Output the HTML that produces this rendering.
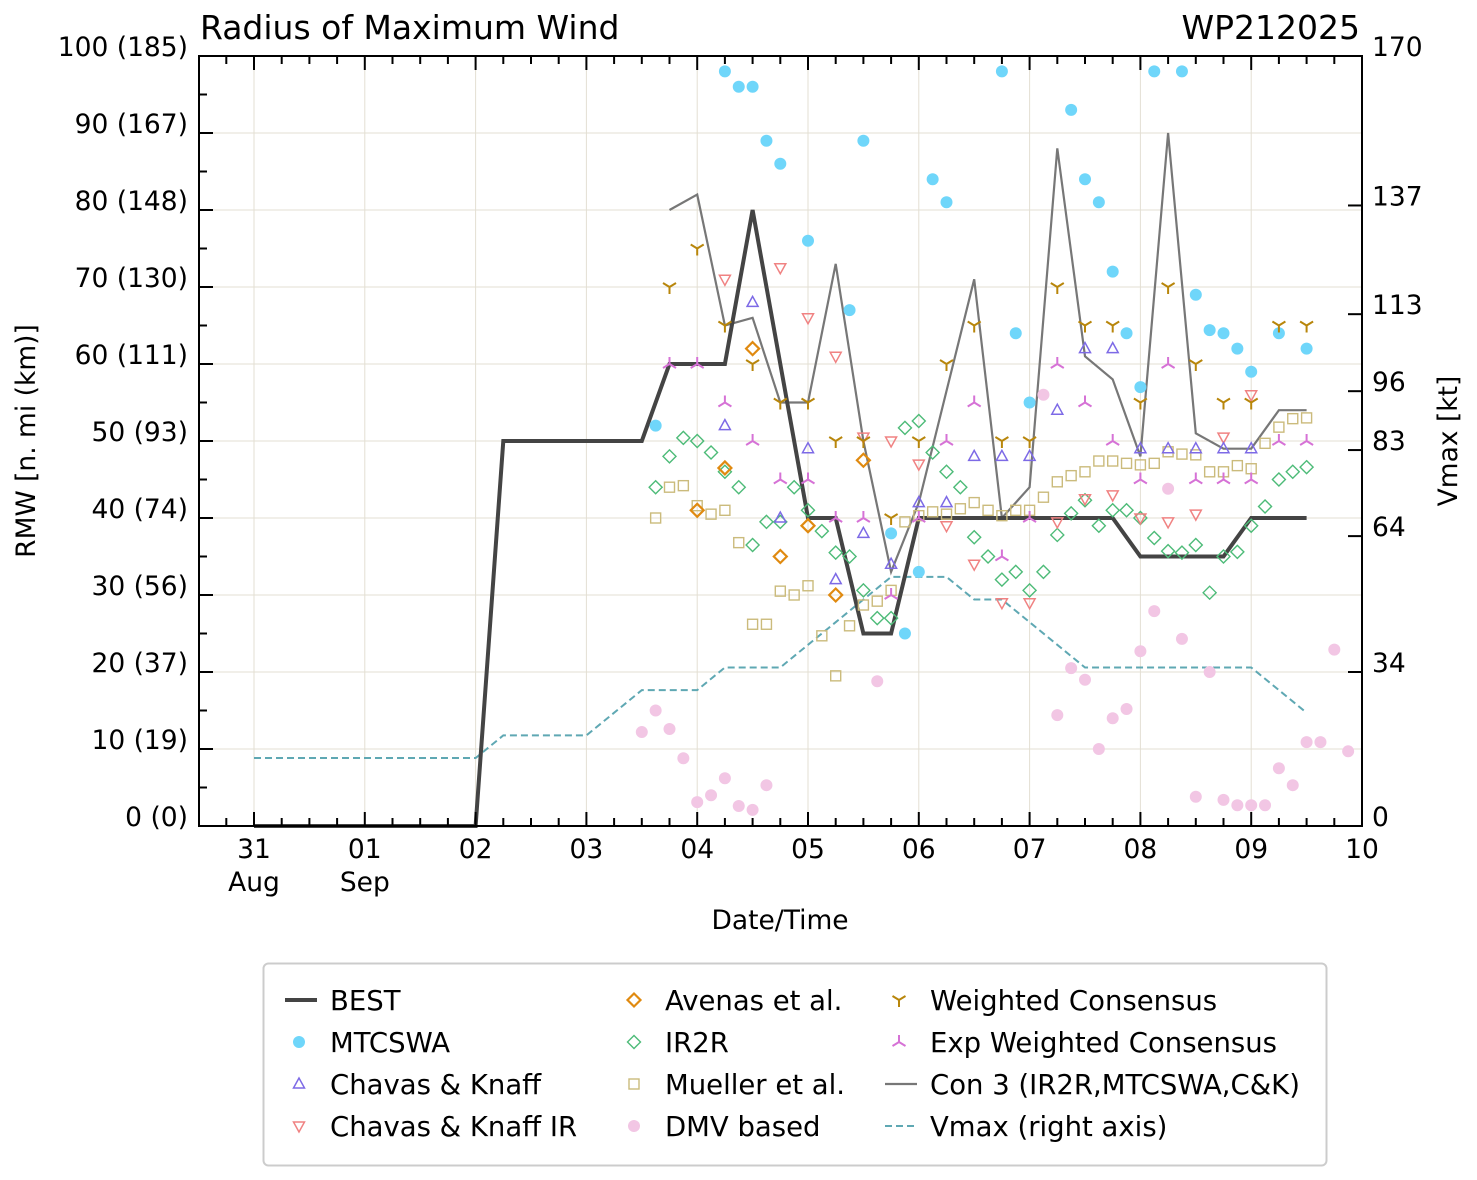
<!DOCTYPE html>
<html><head><meta charset="utf-8"><style>
body{margin:0;background:#fff;}
svg{display:block;font-family:"DejaVu Sans","Liberation Sans",sans-serif;}
</style></head><body>
<svg id="c" width="1477" height="1180" xmlns="http://www.w3.org/2000/svg">
<g id="grid"></g>
<g id="series"></g>
<g id="axes"></g>
<text x="200" y="39" font-size="33">Radius of Maximum Wind</text>
<text x="1360" y="39" font-size="33" text-anchor="end">WP212025</text>
<text transform="translate(35,441) rotate(-90)" font-size="26.5" text-anchor="middle">RMW [n. mi (km)]</text>
<text transform="translate(1457,441) rotate(-90)" font-size="26.5" text-anchor="middle">Vmax [kt]</text>
<text x="780" y="929" font-size="26.5" text-anchor="middle">Date/Time</text>
<g id="legend"></g>
</svg>
<script>
const xTicks=[0,1,2,3,4,5,6,7,8,9,10];
const xTickLabels=["31","01","02","03","04","05","06","07","08","09","10"];
const xMonthLabels=["Aug","Sep","","","","","","","","",""];
const yTicks=[0,10,20,30,40,50,60,70,80,90,100];
const yTickLabels=["0 (0)","10 (19)","20 (37)","30 (56)","40 (74)","50 (93)","60 (111)","70 (130)","80 (148)","90 (167)","100 (185)"];
const rTicks=[0,34,64,83,96,113,137,170];

const bestT=[0,2,2.25,3.5,3.75,4.25,4.5,5,5.25,5.5,5.75,6,7.75,8,8.75,9,9.5];
const bestV=[0,0,50,50,60,60,80,40,40,25,25,40,40,35,35,40,40];
const con3T=[3.75,4,4.25,4.5,4.75,5,5.25,5.5,5.75,6,6.5,6.75,7,7.25,7.5,7.75,8,8.25,8.5,8.75,9,9.25,9.5];
const con3V=[80,82,65,66,55,55,73,50,33,42,71,40,44,88,61,58,48,90,51,49,49,54,54];
const vmaxT=[0,2,2.25,3,3.5,4,4.25,4.75,5,5.25,5.5,5.75,6,6.25,6.5,6.75,7,7.25,7.5,9,9.5];
const vmaxV=[15,15,20,20,30,30,35,35,40,45,50,55,55,55,50,50,45,40,35,35,25];

const mtT=[3.625,4.25,4.375,4.5,4.625,4.75,5,5.375,5.5,5.75,5.875,6,6.125,6.25,6.75,6.875,7,7.375,7.5,7.625,7.75,7.875,8,8.125,8.375,8.5,8.625,8.75,8.875,9,9.25,9.5];
const mtV=[52,98,96,96,89,86,76,67,89,38,25,33,84,81,98,64,55,93,84,81,72,64,57,98,98,69,64.4,64,62,59,64,62];
const ckT=[4.25,4.5,4.75,5,5.25,5.5,5.75,6,6.25,6.5,6.75,7,7.25,7.5,7.75,8,8.25,8.5,8.75,9];
const ckV=[52,68,40,49,32,38,34,42,42,48,48,48,54,62,62,49,49,49,49,49];
const ckirT=[4.25,4.75,5,5.25,5.5,5.75,6,6.25,6.5,6.75,7,7.25,7.5,7.75,8,8.25,8.5,8.75,9];
const ckirV=[71,72.5,66,61,50.5,50,47,39,34,29,29,39.5,42.5,43,40,39.5,40.5,50.5,56];
const avT=[4,4.25,4.5,4.75,5,5.25,5.5];
const avV=[41,46.5,62,35,39,30,47.5];
const irT=[3.625,3.75,3.875,4,4.125,4.25,4.375,4.5,4.625,4.75,4.875,5,5.125,5.25,5.375,5.5,5.625,5.75,5.875,6,6.125,6.25,6.375,6.5,6.625,6.75,6.875,7,7.125,7.25,7.375,7.5,7.625,7.75,7.875,8,8.125,8.25,8.375,8.5,8.625,8.75,8.875,9,9.125,9.25,9.375,9.5];
const irV=[44,48,50.4,50,48.5,46,44,36.5,39.5,39.5,44,41,38.3,35.5,35,30.6,27,27,51.7,52.6,48.5,46,44,37.5,35,32,33,30.6,33,37.8,40.6,42.3,39,41,41,40,37.4,35.7,35.5,36.5,30.3,35,35.6,39,41.5,45,46,46.6];
const muT=[3.625,3.75,3.875,4,4.125,4.25,4.375,4.5,4.625,4.75,4.875,5,5.125,5.25,5.375,5.5,5.625,5.75,5.875,6,6.125,6.25,6.375,6.5,6.625,6.75,6.875,7,7.125,7.25,7.375,7.5,7.625,7.75,7.875,8,8.125,8.25,8.375,8.5,8.625,8.75,8.875,9,9.125,9.25,9.375,9.5];
const muV=[40,44,44.2,41.6,40.5,41,36.8,26.2,26.2,30.5,30,31.2,24.7,19.5,26,28.7,29.2,30.6,39.5,40.3,40.8,40.5,41.2,42,41,40.3,41,41,42.7,44.7,45.5,46,47.4,47.4,47.1,46.9,47.1,48.6,48.3,48.2,46,46,46.8,46.4,49.7,51.8,52.9,53];
const dmvT=[3.5,3.625,3.75,3.875,4,4.125,4.25,4.375,4.5,4.625,5.625,7.125,7.25,7.375,7.5,7.625,7.75,7.875,8,8.125,8.25,8.375,8.5,8.625,8.75,8.875,9,9.125,9.25,9.375,9.5,9.625,9.75,9.875];
const dmvV=[12.2,15,12.6,8.8,3.1,4,6.2,2.6,2.1,5.3,18.8,56,14.4,20.5,19,10,14,15.2,22.7,27.9,43.8,24.3,3.8,20,3.4,2.7,2.7,2.7,7.5,5.3,10.9,10.9,22.9,9.7];
const wcT=[3.75,4,4.25,4.5,4.75,5,5.25,5.5,5.75,6,6.25,6.5,6.75,7,7.25,7.5,7.75,8,8.25,8.5,8.75,9,9.25,9.5];
const wcV=[70,75,65,60,55,55,50,50,40,50,60,65,50,50,70,65,65,55,70,60,55,55,65,65];
const ewT=[3.75,4,4.25,4.5,4.75,5,5.25,5.5,5.75,6,6.25,6.5,6.75,7,7.25,7.5,7.75,8,8.25,8.5,8.75,9,9.25,9.5];
const ewV=[60,60,55,50,45,45,40,40,30,40,50,55,35,40,60,55,50,45,60,45,45,45,50,50];

const NS="http://www.w3.org/2000/svg";
const L=199,R=1362,T=56,B=826;
const X=d=>254+d*110.8;
const Y=v=>B-(v/100)*(B-T);
const YR=v=>B-(v/170)*(B-T);
function mk(tag,attrs,parent){const e=document.createElementNS(NS,tag);for(const k in attrs)e.setAttribute(k,attrs[k]);parent.appendChild(e);return e;}
const grid=document.getElementById('grid'),series=document.getElementById('series'),axes=document.getElementById('axes'),leg=document.getElementById('legend');
const GC="#e3dfd3";
xTicks.forEach(t=>{if(X(t)<R-1){const g=mk('line',{x1:X(t),x2:X(t),y1:T,y2:B,stroke:GC,'stroke-width':1},grid);}});
yTicks.forEach(t=>{const g=mk('line',{x1:L,x2:R,y1:Y(t),y2:Y(t),stroke:GC,'stroke-width':1},grid);});

function poly(ts,vs,yf,attrs,name){const p=mk('polyline',Object.assign({points:ts.map((t,i)=>X(t)+','+yf(vs[i])).join(' '),fill:'none'},attrs),series);}
poly(vmaxT,vmaxV,YR,{stroke:'#5fa8b3','stroke-width':2,'stroke-dasharray':'7,4'},'vmax-line');
poly(con3T,con3V,Y,{stroke:'#777','stroke-width':2.2},'con3-line');
poly(bestT,bestV,Y,{stroke:'#444','stroke-width':4,'stroke-linejoin':'miter'},'best-line');

function marker(kind,cx,cy,color,parent,name){
 let e;
 if(kind==='circle')e=mk('circle',{cx:cx,cy:cy,r:6,fill:color},parent);
 else if(kind==='tup')e=mk('polygon',{points:`${cx},${cy-6} ${cx-5.5},${cy+4} ${cx+5.5},${cy+4}`,fill:'none',stroke:color,'stroke-width':1.5},parent);
 else if(kind==='tdown')e=mk('polygon',{points:`${cx},${cy+6} ${cx-5.5},${cy-4} ${cx+5.5},${cy-4}`,fill:'none',stroke:color,'stroke-width':1.5},parent);
 else if(kind==='diamond')e=mk('polygon',{points:`${cx},${cy-6.5} ${cx+6.5},${cy} ${cx},${cy+6.5} ${cx-6.5},${cy}`,fill:'none',stroke:color,'stroke-width':(color==='#e08a10'?2.2:1.4)},parent);
 else if(kind==='square')e=mk('rect',{x:cx-5,y:cy-5,width:10,height:10,fill:'none',stroke:color,'stroke-width':1.4},parent);
 else if(kind==='y1')e=mk('path',{d:`M${cx},${cy}V${cy+7}M${cx},${cy}L${cx-6.5},${cy-4}M${cx},${cy}L${cx+6.5},${cy-4}`,stroke:color,'stroke-width':2,fill:'none'},parent);
 else if(kind==='y2')e=mk('path',{d:`M${cx},${cy}V${cy-7}M${cx},${cy}L${cx-6.5},${cy+4}M${cx},${cy}L${cx+6.5},${cy+4}`,stroke:color,'stroke-width':2,fill:'none'},parent);
 
 
}
const defs=[
 ['dmv',dmvT,dmvV,'circle','#f2c6e4'],
 ['mueller',muT,muV,'square','#cbbb7c'],
 ['ir2r',irT,irV,'diamond','#4dbb78'],
 ['avenas',avT,avV,'diamond','#e08a10'],
 ['ck-ir',ckirT,ckirV,'tdown','#f08282'],
 ['ck',ckT,ckV,'tup','#7d6ae6'],
 ['mtcswa',mtT,mtV,'circle','#6fd6fa'],
 ['weighted',wcT,wcV,'y1','#b8860b'],
 ['exp-weighted',ewT,ewV,'y2','#d672d6']
];
defs.forEach(([n,ts,vs,k,c])=>ts.forEach((t,i)=>marker(k,X(t),Y(vs[i]),c,series,n+'-point')));

const fr=mk('rect',{x:L,y:T,width:R-L,height:B-T,fill:'none',stroke:'#000','stroke-width':2},axes);

for(let v=0;v<=100;v+=5){const maj=v%10===0,len=maj?14:8;
 mk('line',{x1:L,x2:L+len,y1:Y(v),y2:Y(v),stroke:'#000','stroke-width':2},axes);}
yTicks.forEach((t,i)=>{const e=mk('text',{x:188,y:Y(t)-0,'font-size':26.5,'text-anchor':'end'},axes);e.textContent=yTickLabels[i];});
rTicks.forEach(t=>{mk('line',{x1:R-14,x2:R,y1:YR(t),y2:YR(t),stroke:'#000','stroke-width':2},axes);
 const e=mk('text',{x:1372,y:YR(t)-0,'font-size':26.5},axes);e.textContent=t;});
for(let d=-0.25;d<=10;d+=0.25){const x=X(d);if(x<=L||x>=R)continue;const maj=Math.abs(d-Math.round(d))<1e-6,len=maj?14:8;
 mk('line',{x1:x,x2:x,y1:B,y2:B-len,stroke:'#000','stroke-width':2},axes);
 mk('line',{x1:x,x2:x,y1:T,y2:T+len,stroke:'#000','stroke-width':2},axes);}
xTicks.forEach((t,i)=>{const e=mk('text',{x:X(t),y:858,'font-size':26.5,'text-anchor':'middle'},axes);e.textContent=xTickLabels[i];
 if(xMonthLabels[i]){const m=mk('text',{x:X(t),y:891,'font-size':26.5,'text-anchor':'middle'},axes);m.textContent=xMonthLabels[i];}});

const lb=mk('rect',{x:263.5,y:963.5,width:1063,height:202,rx:5,fill:'#fff',stroke:'#ccc','stroke-width':2},leg);

const entries=[
 [297,1000,'line','#444','BEST'],[297,1042,'circle','#6fd6fa','MTCSWA'],[297,1084,'tup','#7d6ae6','Chavas & Knaff'],[297,1126,'tdown','#f08282','Chavas & Knaff IR'],
 [632,1000,'diamond','#e08a10','Avenas et al.'],[632,1042,'diamond','#4dbb78','IR2R'],[632,1084,'square','#cbbb7c','Mueller et al.'],[632,1126,'circle','#f2c6e4','DMV based'],
 [897,1000,'y1','#b8860b','Weighted Consensus'],[897,1042,'y2','#d672d6','Exp Weighted Consensus'],[897,1126,'dash','#5fa8b3','Vmax (right axis)'],[897,1084,'line2','#777','Con 3 (IR2R,MTCSWA,C&K)']
];
entries.forEach(([x,y,k,c,label])=>{
 const g=mk('g',{},leg);
 if(k==='line')mk('line',{x1:x-12,x2:x+20,y1:y,y2:y,stroke:c,'stroke-width':4},g);
 else if(k==='line2')mk('line',{x1:x-12,x2:x+20,y1:y,y2:y,stroke:c,'stroke-width':2.2},g);
 else if(k==='dash')mk('line',{x1:x-12,x2:x+20,y1:y,y2:y,stroke:c,'stroke-width':2,'stroke-dasharray':'7,4'},g);
 else marker(k,x+2,y,c,g,'legend-marker');
 const t=mk('text',{x:x+33,y:y+10,'font-size':27.5},g);t.textContent=label;
});
</script>
</body></html>
